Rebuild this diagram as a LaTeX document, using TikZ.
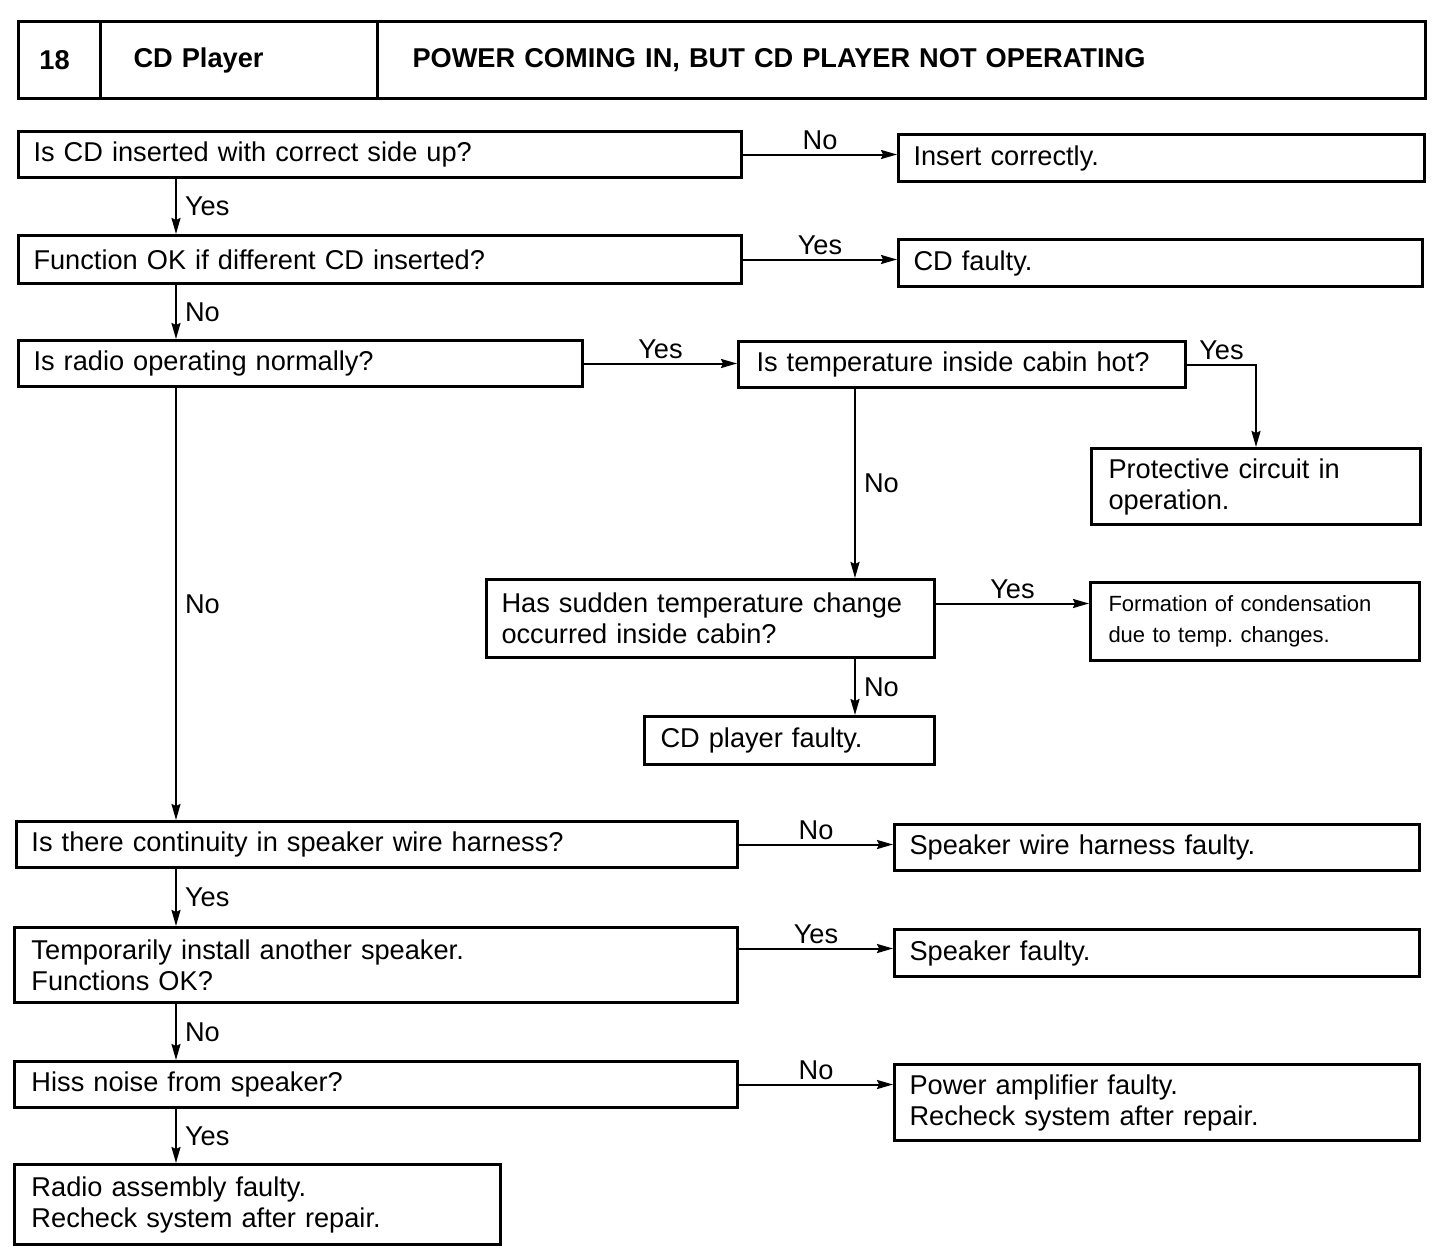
\documentclass[tikz,border=0pt]{standalone}
\usepackage{fontspec}
\setmainfont{Liberation Sans}
\usetikzlibrary{arrows.meta}
\frenchspacing

\tikzset{
	box/.style={draw, line width=1.5pt, anchor=north west, inner xsep=7.5pt, inner ysep=0pt, align=left},
	head/.style={box, minimum height=38.5pt, font=\fontsize{13.6}{15.5}\selectfont\bfseries},
	arr/.style={line width=1pt, -{Stealth[length=8pt,width=4.5pt,inset=1pt]}},
	lbl/.style={inner sep=2pt},
}

\begin{document}
\begin{tikzpicture}[x=0.5pt, y=-0.5pt, font=\fontsize{13.6}{15.5}\selectfont]
	\useasboundingbox (0,0) rectangle (1456,1252);
	%header
	\node[head, minimum width=41pt, inner xsep=10.5pt, text width=20pt] (hnum) at (17,20) {18};
	\node[head, minimum width=138.5pt, inner xsep=16.5pt, text width=105.5pt] (htitle) at (99,20) {CD Player};
	\node[head, minimum width=524pt, inner xsep=17.5pt, text width=489pt] (hprob) at (376,20) {POWER COMING IN, BUT CD PLAYER NOT OPERATING};
	%columns
	\coordinate (lcol) at (176,0);
	\coordinate (rcol) at (855,0);
	%questions
	\node[box, minimum width=361.5pt, text width=346.5pt, minimum height=23pt] (q1) at (17,130) {Is CD inserted with correct side up?};
	\node[box, minimum width=361.5pt, text width=346.5pt, minimum height=24pt] (q2) at (17,234) {Function OK if different CD inserted?};
	\node[box, minimum width=282pt, text width=267pt, minimum height=23pt] (q3) at (17,339) {Is radio operating normally?};
	\node[box, minimum width=223.5pt, inner xsep=9pt, text width=205.5pt, minimum height=23pt] (q4) at (737,340) {Is temperature inside cabin hot?};
	\node[box, minimum width=224pt, text width=209pt, minimum height=39pt] (q5) at (485,578) {Has sudden temperature change\\occurred inside cabin?};
	\node[box, minimum width=360.5pt, text width=345.5pt, minimum height=23pt] (q6) at (15,820) {Is there continuity in speaker wire harness?};
	\node[box, minimum width=361.5pt, inner xsep=8.5pt, text width=344.5pt, minimum height=37.5pt] (q7) at (13,926) {Temporarily install another speaker.\\Functions OK?};
	\node[box, minimum width=361.5pt, inner xsep=8.5pt, text width=344.5pt, minimum height=23pt] (q8) at (13,1060) {Hiss noise from speaker?};
	%answers
	\node[box, minimum width=263pt, text width=248pt, minimum height=23.5pt] (a1) at (897,133) {Insert correctly.};
	\node[box, minimum width=262pt, text width=247pt, minimum height=23.5pt] (a2) at (897,238) {CD faulty.};
	\node[box, minimum width=164.5pt, inner xsep=8.5pt, text width=147.5pt, minimum height=38pt] (a4) at (1090,447) {Protective circuit in\\operation.};
	\node[box, minimum width=164.5pt, inner xsep=9pt, text width=146.5pt, minimum height=39pt, font=\fontsize{11}{15.5}\selectfont] (a5a) at (1089,581) {Formation of condensation\\due to temp. changes.};
	\node[box, minimum width=145pt, inner xsep=8pt, text width=129pt, minimum height=24pt] (a5b) at (643,715) {CD player faulty.};
	\node[box, minimum width=262.5pt, text width=247.5pt, minimum height=23pt] (a6) at (893,823) {Speaker wire harness faulty.};
	\node[box, minimum width=262.5pt, text width=247.5pt, minimum height=23.5pt] (a7) at (893,928) {Speaker faulty.};
	\node[box, minimum width=262.5pt, text width=247.5pt, minimum height=38pt] (a8) at (893,1063) {Power amplifier faulty.\\Recheck system after repair.};
	\node[box, minimum width=243pt, inner xsep=8.5pt, text width=226pt, minimum height=40pt] (a9) at (13,1163) {Radio assembly faulty.\\Recheck system after repair.};
	%down the left
	\draw[arr] (q1.south -| lcol) -- (q2.north -| lcol) node[midway, right, lbl, xshift=2pt] {Yes};
	\draw[arr] (q2.south -| lcol) -- (q3.north -| lcol) node[midway, right, lbl, xshift=2pt] {No};
	\draw[arr] (q3.south -| lcol) -- (q6.north -| lcol) node[midway, right, lbl, xshift=2pt] {No};
	\draw[arr] (q6.south -| lcol) -- (q7.north -| lcol) node[midway, right, lbl, xshift=2pt] {Yes};
	\draw[arr] (q7.south -| lcol) -- (q8.north -| lcol) node[midway, right, lbl, xshift=2pt] {No};
	\draw[arr] (q8.south -| lcol) -- (a9.north -| lcol) node[midway, right, lbl, xshift=2pt] {Yes};
	%temperature branch
	\draw[arr] (q4.south -| rcol) -- (q5.north -| rcol) node[midway, right, lbl, xshift=2pt] {No};
	\draw[arr] (q5.south -| rcol) -- (a5b.north -| rcol) node[midway, right, lbl, xshift=2pt] {No};
	\draw[arr] (q4.east) -| (a4.north) node[pos=0.25, above, lbl] {Yes};
	%to the right
	\coordinate (q5y) at ([yshift=7.5pt]q5.east);
	\coordinate (q7y) at ([yshift=8.25pt]q7.east);
	\draw[arr] (q1.east) -- (q1.east -| a1.west) node[midway, above, lbl] {No};
	\draw[arr] (q2.east) -- (q2.east -| a2.west) node[midway, above, lbl] {Yes};
	\draw[arr] (q3.east) -- (q3.east -| q4.west) node[midway, above, lbl] {Yes};
	\draw[arr] (q5y) -- (q5y -| a5a.west) node[midway, above, lbl] {Yes};
	\draw[arr] (q6.east) -- (q6.east -| a6.west) node[midway, above, lbl] {No};
	\draw[arr] (q7y) -- (q7y -| a7.west) node[midway, above, lbl] {Yes};
	\draw[arr] (q8.east) -- (q8.east -| a8.west) node[midway, above, lbl] {No};
\end{tikzpicture}
\end{document}
